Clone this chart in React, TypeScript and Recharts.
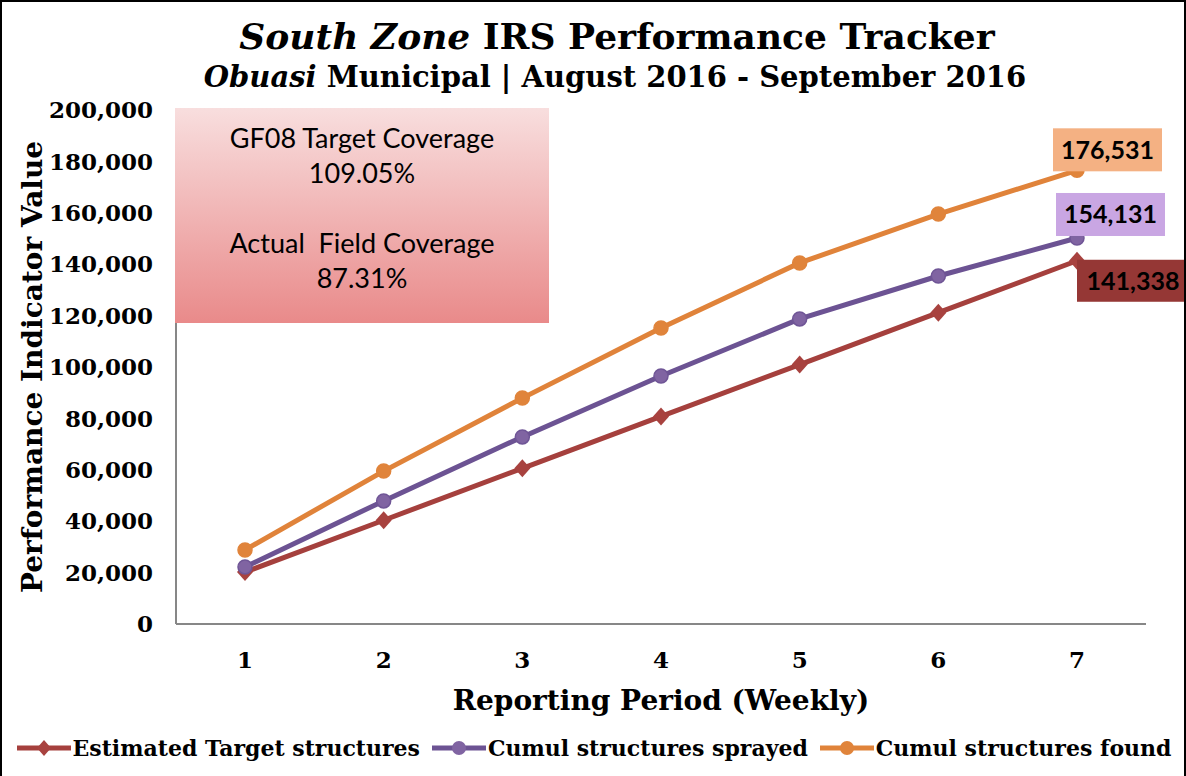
import React from 'react';
import { LineChart, Line, XAxis, YAxis, Legend, LabelList } from 'recharts';

const periods = ['1', '2', '3', '4', '5', '6', '7'];
const estimatedTarget = [20191, 40382, 60573, 80765, 100956, 121147, 141338];
const cumulSprayed = [22200, 47900, 72800, 96500, 118700, 135400, 150200];
const cumulFound = [28800, 59500, 87900, 115200, 140500, 159500, 176531];
const yTicks = [0, 20000, 40000, 60000, 80000, 100000, 120000, 140000, 160000, 180000, 200000];
const finalLabels = ['141,338', '154,131', '176,531'];
const seriesNames = ['Estimated Target structures', 'Cumul structures sprayed', 'Cumul structures found'];

const data = periods.map((p, i) => ({
  period: p,
  target: estimatedTarget[i],
  sprayed: cumulSprayed[i],
  found: cumulFound[i],
}));

const RED = '#a5403d';
const RED_M = '#a8423f';
const PURPLE = '#6c5393';
const PURPLE_M = '#8064a2';
const ORANGE = '#e0833a';
const ORANGE_M = '#e0843b';

const SERIF = '"DejaVu Serif", serif';
const SANS = 'Lato, "Open Sans", sans-serif';

const diamondDot = (color: string) => (p: any) => {
  const { cx, cy, index } = p;
  if (cx == null || cy == null) return <g key={index} />;
  return (
    <polygon
      key={index}
      points={`${cx},${cy - 9} ${cx + 8},${cy} ${cx},${cy + 9} ${cx - 8},${cy}`}
      fill={color}
    />
  );
};

const circleDot = (color: string, stroke: string) => (p: any) => {
  const { cx, cy, index } = p;
  if (cx == null || cy == null) return <g key={index} />;
  return <circle key={index} cx={cx} cy={cy} r={7} fill={color} stroke={stroke} strokeWidth={1.5} />;
};

const makeLabel = (bg: string, text: string, dx: number, dy: number, w: number, h: number) => (p: any) => {
  const { x, y, index } = p;
  if (index !== periods.length - 1) return null;
  const bx = x + dx;
  const by = y + dy;
  return (
    <g key={`lbl-${index}`}>
      <rect x={bx} y={by} width={w} height={h} fill={bg} />
      <text
        x={bx + w / 2}
        y={by + h / 2 + 9}
        textAnchor="middle"
        fontFamily={SANS}
        fontWeight="bold"
        fontSize={25}
        fill="#000"
      >
        {text}
      </text>
    </g>
  );
};

const legendItems = [
  { name: seriesNames[0], color: RED, marker: 'diamond', mcolor: RED_M },
  { name: seriesNames[1], color: PURPLE, marker: 'circle', mcolor: PURPLE_M },
  { name: seriesNames[2], color: ORANGE, marker: 'circle', mcolor: ORANGE_M },
];

const LegendContent = () => (
  <div
    style={{
      display: 'flex',
      justifyContent: 'center',
      alignItems: 'center',
      height: 40,
      gap: 10,
      fontFamily: SERIF,
      fontWeight: 'bold',
      fontSize: 22,
      color: '#000',
      whiteSpace: 'nowrap',
    }}
  >
    {legendItems.map((it) => (
      <div key={it.name} style={{ display: 'flex', alignItems: 'center' }}>
        <svg width={58} height={22}>
          <line x1={2} x2={56} y1={11} y2={11} stroke={it.color} strokeWidth={5} />
          {it.marker === 'diamond' ? (
            <polygon points="29,3 36,11 29,19 22,11" fill={it.mcolor} />
          ) : (
            <circle cx={29} cy={11} r={7} fill={it.mcolor} />
          )}
        </svg>
        <span>{it.name}</span>
      </div>
    ))}
  </div>
);

export default function App() {
  return (
    <div style={{ position: 'absolute', left: 0, top: 0, width: 1186, height: 776, background: '#fff', overflow: 'hidden' }}>
      <div
        style={{
          position: 'absolute',
          left: 0,
          top: 14,
          width: 1234,
          textAlign: 'center',
          fontFamily: SERIF,
          fontWeight: 'bold',
          fontSize: 36,
          lineHeight: '44px',
          color: '#000',
          whiteSpace: 'nowrap',
        }}
      >
        <i>South Zone</i> IRS Performance Tracker
      </div>
      <div
        style={{
          position: 'absolute',
          left: 0,
          top: 58,
          width: 1230,
          textAlign: 'center',
          fontFamily: SERIF,
          fontWeight: 'bold',
          fontSize: 29,
          lineHeight: '38px',
          color: '#000',
          whiteSpace: 'nowrap',
        }}
      >
        <i>Obuasi</i> Municipal | August 2016 - September 2016
      </div>
      <div style={{ position: 'absolute', left: 0, top: 0 }}>
        <LineChart width={1186} height={776} data={data} margin={{ top: 110, right: 40, left: 10, bottom: 8 }}>
          <XAxis
            dataKey="period"
            padding={{ left: 69, right: 69 }}
            axisLine={{ stroke: '#878787', strokeWidth: 2 }}
            tickLine={false}
            tickMargin={22}
            height={104}
            tick={{ fontFamily: SERIF, fontWeight: 'bold', fontSize: 23, fill: '#000' }}
            label={{
              value: 'Reporting Period (Weekly)',
              position: 'insideBottom',
              offset: 18,
              style: { fontFamily: SERIF, fontWeight: 'bold', fontSize: 28, fill: '#000' },
            }}
          />
          <YAxis
            domain={[0, 200000]}
            ticks={yTicks}
            interval={0}
            width={166}
            axisLine={{ stroke: '#878787', strokeWidth: 2 }}
            tickLine={false}
            tickMargin={17}
            tickFormatter={(v: number) => v.toLocaleString('en-US')}
            tick={{ fontFamily: SERIF, fontWeight: 'bold', fontSize: 23, fill: '#000' }}
            label={{
              value: 'Performance Indicator Value',
              angle: -90,
              position: 'insideLeft',
              offset: 22,
              style: { fontFamily: SERIF, fontWeight: 'bold', fontSize: 28, fill: '#000', textAnchor: 'middle' },
            }}
          />
          <Legend verticalAlign="bottom" content={<LegendContent />} wrapperStyle={{ left: 0, width: 1186 }} />
          <Line
            type="linear"
            dataKey="target"
            name={seriesNames[0]}
            stroke={RED}
            strokeWidth={5}
            dot={diamondDot(RED_M)}
            isAnimationActive={false}
          >
            <LabelList dataKey="target" content={makeLabel('#953735', finalLabels[0], 0, -1, 112, 42)} />
          </Line>
          <Line
            type="linear"
            dataKey="sprayed"
            name={seriesNames[1]}
            stroke={PURPLE}
            strokeWidth={5}
            dot={circleDot(PURPLE_M, '#6f5596')}
            isAnimationActive={false}
          >
            <LabelList dataKey="sprayed" content={makeLabel('#c9a6e3', finalLabels[1], -21, -45, 109, 43)} />
          </Line>
          <Line
            type="linear"
            dataKey="found"
            name={seriesNames[2]}
            stroke={ORANGE}
            strokeWidth={5}
            dot={circleDot(ORANGE_M, '#e0843b')}
            isAnimationActive={false}
          >
            <LabelList dataKey="found" content={makeLabel('#f4b183', finalLabels[2], -24, -42, 109, 43)} />
          </Line>
        </LineChart>
      </div>
      <div
        style={{
          position: 'absolute',
          left: 175,
          top: 108,
          width: 374,
          height: 215,
          background: 'linear-gradient(to bottom, #f8dede, #e98a8a)',
          fontFamily: SANS,
          fontSize: 27,
          color: '#000',
          textAlign: 'center',
          lineHeight: '35px',
        }}
      >
        <div style={{ paddingTop: 12 }}>GF08 Target Coverage</div>
        <div>109.05%</div>
        <div style={{ height: 35 }} />
        <div style={{ whiteSpace: 'pre' }}>Actual  Field Coverage</div>
        <div>87.31%</div>
      </div>
      <div
        style={{
          position: 'absolute',
          left: 0,
          top: 0,
          width: 1186,
          height: 790,
          boxSizing: 'border-box',
          border: '2px solid #000',
          pointerEvents: 'none',
        }}
      />
    </div>
  );
}
